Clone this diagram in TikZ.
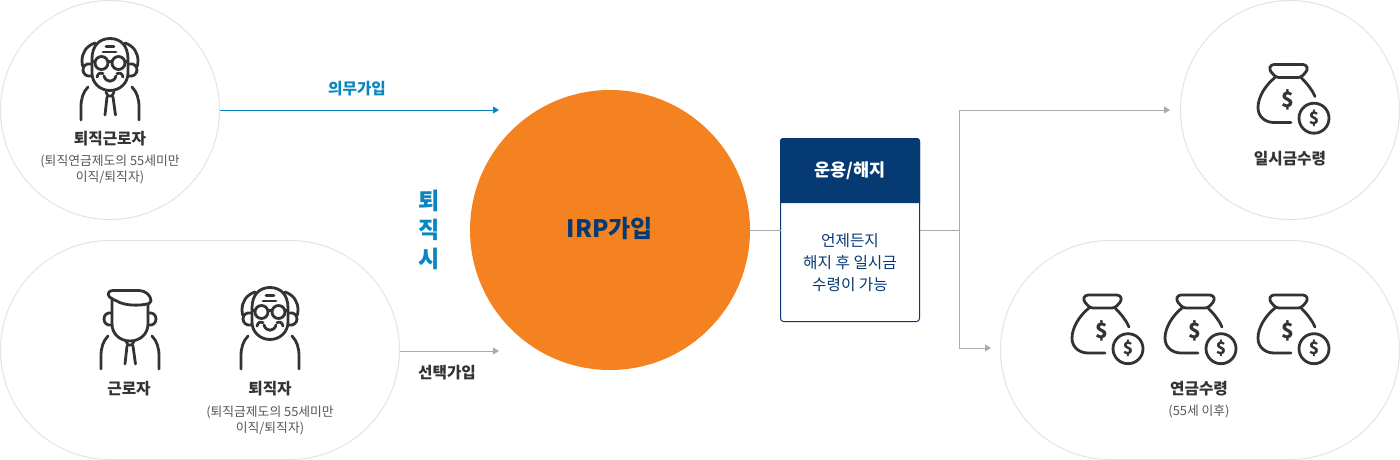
\documentclass[tikz,border=0pt]{standalone}
\usepackage{fontspec}
\setmainfont{Noto Sans CJK KR}
\usepackage{xcolor}
\usetikzlibrary{arrows.meta, positioning}

\definecolor{ringgray}{HTML}{E3E3E3}
\definecolor{linegray}{HTML}{ABABAB}
\definecolor{icondark}{HTML}{333333}
\definecolor{subgray}{HTML}{555555}
\definecolor{tealblue}{HTML}{0A86BE}
\definecolor{navyblue}{HTML}{063A73}
\definecolor{irporange}{HTML}{F58220}

\newcommand{\fsz}[2]{\fontsize{#1}{#2}\selectfont}

\tikzset{
  pics/oldface/.style={code={
      % face
      \draw (-18,22) .. controls (-18,8) and (-10,1.5) .. (0,1.5) .. controls (10,1.5) and (18,8) .. (18,22)
        -- (18,36) .. controls (18,46) and (10,53.5) .. (0,53.5) .. controls (-10,53.5) and (-18,46) .. (-18,36) -- cycle;
      % hair
      \draw (-15,6) .. controls (-24,9) and (-28,16) .. (-28,24) -- (-27.5,29);
      \draw (15,6) .. controls (24,9) and (28,16) .. (28,24) -- (27.5,29);
      % ears
      \draw (-19,27) .. controls (-24,26) and (-27,29) .. (-27,33) .. controls (-27,37) and (-23,40) .. (-19,39);
      \draw (19,27) .. controls (24,26) and (27,29) .. (27,33) .. controls (27,37) and (23,40) .. (19,39);
      % forehead
      \draw (-4,9.5) -- (4,9.5);
      \draw (-7,15) -- (6,15);
      % glasses
      \draw (-8.5,26) circle (6.5);
      \draw (8.5,26) circle (6.5);
      \draw (-2,24.5) -- (2,24.5);
      \draw (-15,25) -- (-18,24);
      \draw (15,25) -- (18,24);
      % mouth
      \draw (-6,39) .. controls (-4,46) and (4,46) .. (6,39);
      \draw (-13,40) .. controls (-12,36) and (-9,35) .. (-7,36.5);
      \draw (13,40) .. controls (12,36) and (9,35) .. (7,36.5);
      % shoulders
      \draw (-22,50) .. controls (-27,55) and (-29,62) .. (-29,70) -- (-29,83);
      \draw (22,50) .. controls (27,55) and (29,62) .. (29,70) -- (29,83);
  }},
  pics/youngface/.style={code={
      % hair
      \draw[rounded corners=2] (-17,4.5) -- (7,4.5) .. controls (15,4.5) and (21,9) .. (21,17)
        .. controls (10,20) and (-5,20) .. (-15,14) .. controls (-23,11) and (-24,5) .. (-17,4.5);
      % face
      \draw (-18,13) -- (-18,38) .. controls (-18,48) and (-10,55) .. (0,55) .. controls (10,55) and (18,48) .. (18,38) -- (18,18);
      % ears
      \draw (-18,27) .. controls (-23,26) and (-26,29) .. (-26,33) .. controls (-26,37) and (-23,40) .. (-18,39);
      \draw (18,27) .. controls (23,26) and (26,29) .. (26,33) .. controls (26,37) and (23,40) .. (18,39);
      % shoulders
      \draw (-22,50) .. controls (-27,55) and (-29,62) .. (-29,70) -- (-29,83);
      \draw (22,50) .. controls (27,55) and (29,62) .. (29,70) -- (29,83);
  }},
  pics/necktie/.style={code={
      \draw (-4,55) -- (-2,59) -- (2,59) -- (4,55);
      \draw (-3,60) -- (-5,78);
      \draw (3,60) -- (5.5,78);
  }},
  pics/moneybag/.style={code={
      % neck
      \draw[rounded corners=3] (40,38) -- (33,30) -- (35,25) -- (70,25) -- (72,30) -- (65,38) -- cycle;
      % body
      \draw (39,38) .. controls (29,46) and (22,58) .. (22,68) .. controls (22,78) and (30,83) .. (38,83) -- (55,83);
      \draw (65,38) .. controls (71,44) and (76,50) .. (79,57);
      % coin
      \draw (78,78.7) circle (15);
      \node[dollarlbl, font=\bfseries\fsz{21}{21}] (-bagsym) at (51.5,60.5) {\$};
      \node[dollarlbl, font=\bfseries\fsz{17}{17}] (-coinsym) at (78,78.7) {\$};
  }},
}

\begin{document}
\begin{tikzpicture}[
    x=1pt, y=-1pt,
    icon/.style={draw=icondark, line width=2.8pt, line cap=round, line join=round},
    dollarlbl/.style={text=icondark, inner sep=0pt},
    ring/.style={draw=ringgray, line width=1pt, circle, minimum size=219pt, inner sep=0pt, outer sep=0pt},
    pill/.style={draw=ringgray, line width=1pt, rectangle, rounded corners=109.5pt, minimum width=399pt,
        minimum height=219pt, inner sep=0pt, outer sep=0pt},
    titlelbl/.style={text=icondark, font=\bfseries\fsz{15.7}{18}, inner sep=0pt},
    sublbl/.style={text=subgray, font=\fsz{12.8}{16.5}, align=center, inner sep=0pt},
    greyline/.style={draw=linegray, line width=1pt},
    greyarr/.style={greyline, -{Triangle[length=6pt,width=7pt]}},
    tealarr/.style={draw=tealblue, line width=1pt, -{Triangle[length=6pt,width=7pt]}},
  ]
  \useasboundingbox (0,0) rectangle (1400,460);

  % outer shapes
  \node[ring] (retcirc) at (110,110) {};
  \node[pill] (leftpill) at (200,350) {};
  \node[ring] (lumpcirc) at (1290,110) {};
  \node[pill] (rightpill) at (1200,350) {};
  \node[circle, fill=irporange, minimum size=280pt, inner sep=0pt, outer sep=0pt] (irp) at (610,230) {};
  \node[text=navyblue, font=\bfseries\fsz{24}{24}, inner sep=0pt] (irplbl) at (610,228.5) {IRP가입};

  % box
  \node[draw=navyblue, line width=1pt, rectangle, rounded corners=3pt, minimum width=139pt, minimum height=183pt,
    inner sep=0pt, outer sep=0pt] (box) at (850,230) {};
  \fill[navyblue, rounded corners=3pt] (780,203) -- (780,138) -- (920,138) -- (920,203);
  \fill[navyblue] (780,198) rectangle (920,203);
  \node[text=white, font=\bfseries\fsz{17.5}{18}, inner sep=0pt] (boxhead) at (850,171) {운용/해지};
  \node[text=navyblue, font=\fsz{15.7}{22}, align=center, inner sep=0pt] (boxtext) at (850,262.5) {언제든지\\해지 후 일시금\\수령이 가능};

  % icons
  \pic[icon] (oldone) at (110,37) {oldface};
  \pic[icon] (oldtie) at (110,37) {necktie};
  \pic[icon] (young) at (130,286) {youngface};
  \pic[icon] (youngtie) at (130,286) {necktie};
  \pic[icon] (oldtwo) at (270,286) {oldface};
  \pic[icon] (bagtop) at (1236,39.5) {moneybag};
  \pic[icon] (bagone) at (1050,270) {moneybag};
  \pic[icon] (bagtwo) at (1143,270) {moneybag};
  \pic[icon] (bagthree) at (1236,270) {moneybag};

  % labels
  \node[titlelbl] (rettitle) at (110,139) {퇴직근로자};
  \node[sublbl, below=8pt of rettitle] (retsub) {(퇴직연금제도의 55세미만\\이직/퇴직자)};
  \node[titlelbl] (workertitle) at (129,389) {근로자};
  \node[titlelbl] (leavertitle) at (270,389) {퇴직자};
  \node[sublbl, below=9pt of leavertitle] (leaversub) {(퇴직금제도의 55세미만\\이직/퇴직자)};
  \node[titlelbl] (lumptitle) at (1290,159) {일시금수령};
  \node[titlelbl] (annuitytitle) at (1199,389) {연금수령};
  \node[sublbl, below=8pt of annuitytitle] (annuitysub) {(55세 이후)};
  \node[text=tealblue, font=\bfseries\fsz{15.7}{18}, inner sep=0pt] (mustlbl) at (357,89) {의무가입};
  \node[titlelbl] (optlbl) at (447,373) {선택가입};
  \node[text=tealblue, font=\bfseries\fsz{23}{29}, align=center, inner sep=0pt] (quitlbl) at (429,229.5) {퇴\\직\\시};

  % free ends
  \coordinate (mustend) at (499,110);
  \coordinate (optend) at (499,351);
  \coordinate (branch) at (959,230);
  \coordinate (lumpend) at (1170,110);
  \coordinate (annuityend) at (991,348);

  % connectors
  \draw[tealarr] (retcirc.east) -- (mustend);
  \draw[greyarr] (leftpill.east |- optend) -- (optend);
  \draw[greyline] (irp.east) -- (box.west);
  \draw[greyline] (box.east) -- (branch);
  \draw[greyarr] (branch) |- (lumpend);
  \draw[greyarr] (branch) |- (annuityend);
\end{tikzpicture}
\end{document}
